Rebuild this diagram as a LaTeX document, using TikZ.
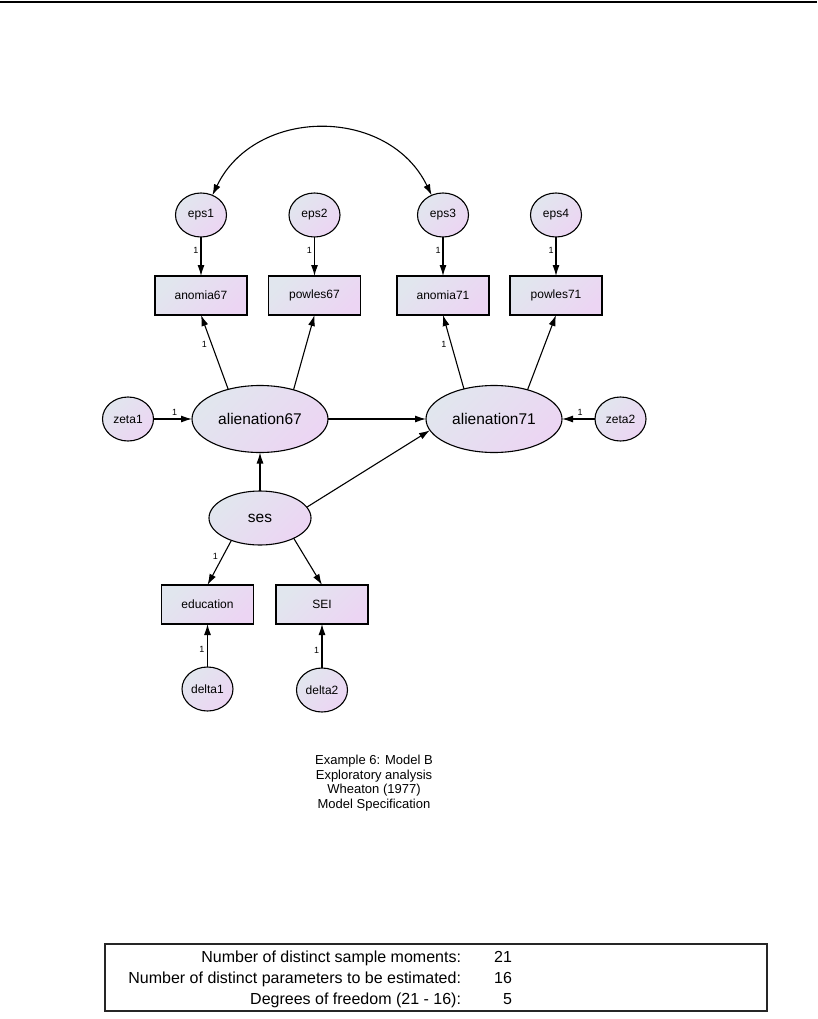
\documentclass[tikz,border=0pt]{standalone}
\usepackage{fontspec}
\setmainfont{Liberation Sans}
\usetikzlibrary{arrows.meta,shapes.geometric}
\definecolor{amosL}{HTML}{E1E6EE}
\definecolor{amosR}{HTML}{ECD5F3}
\begin{document}
\begin{tikzpicture}[x=1pt,y=-1pt,
  every node/.style={inner sep=0pt, outer sep=0pt},
  shadedshape/.style={draw=black, line width=1.1pt, left color=amosL, right color=amosR, shading angle=45},
  obs/.style={shadedshape, rectangle, minimum width=92pt, minimum height=39pt, font=\fontsize{12}{14}\selectfont},
  errv/.style={shadedshape, ellipse, minimum width=51pt, minimum height=44pt, font=\fontsize{12}{14}\selectfont},
  lat/.style={shadedshape, ellipse, minimum width=136pt, minimum height=67pt, font=\fontsize{15.5}{18}\selectfont},
  sesv/.style={shadedshape, ellipse, minimum width=102pt, minimum height=54pt, font=\fontsize{15.5}{18}\selectfont},
  arr/.style={line width=1.1pt, -{Latex[length=11pt,width=7pt]}},
  one/.style={font=\fontsize{9}{10}\selectfont},
  tabtxt/.style={font=\fontsize{16}{18}\selectfont},
]
\useasboundingbox (0,0) rectangle (817,1019);
\draw[line width=1.5pt] (0,2) -- (817,2);

% observed variables
\node[obs] (anomia67) at (201,295.5) {anomia67};
\node[obs] (powles67) at (314.5,295.5) {powles67};
\node[obs] (anomia71) at (443,295.5) {anomia71};
\node[obs] (powles71) at (556,295.5) {powles71};
\node[obs] (education) at (207.5,604.5) {education};
\node[obs] (SEI) at (322,604.5) {SEI};

% error terms
\node[errv] (eps1) at (201,215) {eps1};
\node[errv] (eps2) at (314.5,215) {eps2};
\node[errv] (eps3) at (443,215) {eps3};
\node[errv] (eps4) at (556,215) {eps4};
\node[errv] (zeta1) at (128,419) {zeta1};
\node[errv] (zeta2) at (620.5,419) {zeta2};
\node[errv] (delta1) at (207.5,689) {delta1};
\node[errv] (delta2) at (322,690) {delta2};

% latent variables
\node[lat] (alien67) at (260,419) {alienation67};
\node[lat] (alien71) at (494,419) {alienation71};
\node[sesv] (ses) at (260,518) {ses};

% covariance
\draw[line width=1.1pt, {Latex[length=11pt,width=7pt]}-{Latex[length=11pt,width=7pt]}]
  (eps1.60) .. controls +(43,-89) and +(-43,-89) .. (eps3.120);

% error arrows
\draw[arr] (eps1) -- node[one, left=2.5pt, pos=0.35]{1} (anomia67);
\draw[arr] (eps2) -- node[one, left=2.5pt, pos=0.35]{1} (powles67);
\draw[arr] (eps3) -- node[one, left=2.5pt, pos=0.35]{1} (anomia71);
\draw[arr] (eps4) -- node[one, left=2.5pt, pos=0.35]{1} (powles71);
\draw[arr] (zeta1) -- node[one, above=4pt, pos=0.55]{1} (alien67);
\draw[arr] (zeta2) -- node[one, above=4pt, pos=0.45]{1} (alien71);
\draw[arr] (delta1) -- node[one, left=3pt, pos=0.4]{1} (education);
\draw[arr] (delta2) -- node[one, left=3pt, pos=0.4]{1} (SEI);

% loadings
\draw[arr] (alien67.137) -- node[one, left=5pt, pos=0.6]{1} (anomia67.south);
\draw[arr] (alien67.41) -- (powles67.south);
\draw[arr] (alien71.135) -- node[one, left=5pt, pos=0.6]{1} (anomia71.south);
\draw[arr] (alien71.41) -- (powles71.south);
\draw[arr] (ses.218) -- node[one, left=5pt, pos=0.36]{1} (education.north);
\draw[arr] (ses.329) -- (SEI.north);

% structural paths
\draw[arr] (alien67) -- (alien71);
\draw[arr] (ses) -- (alien67);
\draw[arr] (ses.13) -- (alien71.190);

% caption
\node[align=center, font=\fontsize{13}{14.5}\selectfont] (caption) at (374,783)
  {Example 6: Model B\\Exploratory analysis\\Wheaton (1977)\\Model Specification};

% table
\draw[line width=1.2pt, draw=black!85] (105,944) rectangle (767,1011);
\node[tabtxt, anchor=base east] (r1) at (461,962) {Number of distinct sample moments:};
\node[tabtxt, anchor=base east] (r2) at (461,983) {Number of distinct parameters to be estimated:};
\node[tabtxt, anchor=base east] (r3) at (461,1004) {Degrees of freedom (21 - 16):};
\node[tabtxt, anchor=base east] (v1) at (512,962) {21};
\node[tabtxt, anchor=base east] (v2) at (512,983) {16};
\node[tabtxt, anchor=base east] (v3) at (512,1004) {5};
\end{tikzpicture}
\end{document}
